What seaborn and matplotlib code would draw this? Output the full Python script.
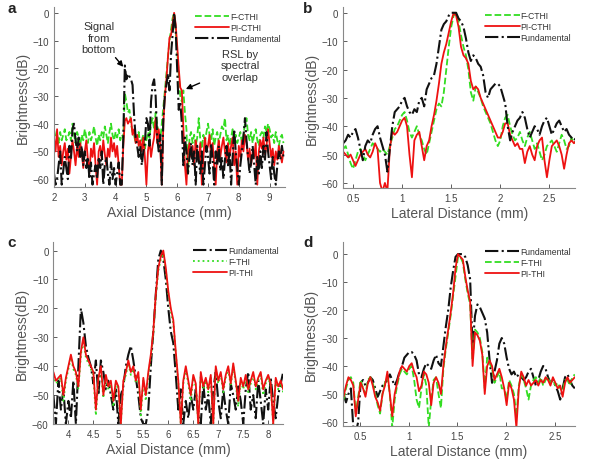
import matplotlib
matplotlib.use("Agg")
import matplotlib.pyplot as plt
from matplotlib.ticker import FormatStrFormatter
import seaborn as sns
import numpy as np

# ---- panel a : axial profile, CTHI ----
a_start, a_step = 2.0, 0.05
a_fcthi = [-42, -45, -44, -47, -43, -46, -44, -42, -46, -45,
           -43, -46, -40, -44, -47, -43, -45, -48, -44, -46,
           -42, -45, -47, -43, -46, -44, -41, -45, -48, -44,
           -46, -43, -45, -41, -44, -47, -43, -40, -44, -46,
           -43, -45, -42, -46, -44, -45, -29, -32, -36, -35,
           -40, -43, -44, -47, -45, -43, -48, -46, -44, -49,
           -46, -43, -45, -40, -38, -42, -36, -40, -44, -46,
           -40, -34, -28, -22, -16, -10, -6, -2, 0, -6,
           -14, -22, -30, -32, -28, -36, -42, -58, -45, -43,
           -47, -44, -48, -45, -38, -46, -49, -44, -47, -43,
           -40, -44, -46, -42, -48, -45, -43, -47, -44, -41,
           -42, -38, -46, -44, -48, -45, -42, -46, -44, -47,
           -45, -43, -47, -44, -40, -38, -44, -46, -43, -47,
           -44, -42, -46, -48, -44, -43, -45, -41, -43, -40,
           -42, -45, -44, -47, -43, -46, -48, -45, -44, -47]
a_picthi = [-45, -50, -42, -52, -48, -55, -50, -47, -53, -49,
            -58, -52, -46, -50, -55, -48, -52, -47, -50, -56,
            -50, -46, -53, -58, -49, -52, -47, -55, -62, -50,
            -48, -53, -46, -51, -55, -49, -52, -45, -50, -47,
            -52, -48, -55, -62, -62, -48, -39, -38, -40, -39,
            -38, -44, -42, -47, -44, -48, -46, -50, -45, -52,
            -62, -50, -46, -52, -48, -45, -38, -47, -42, -48,
            -62, -40, -30, -24, -16, -9, -8, -4, 0, -4,
            -12, -20, -27, -28, -42, -55, -62, -50, -47, -52,
            -48, -55, -46, -50, -53, -47, -62, -52, -45, -50,
            -48, -44, -52, -47, -55, -62, -50, -46, -52, -48,
            -45, -50, -54, -47, -52, -48, -45, -55, -50, -62,
            -48, -52, -46, -50, -44, -47, -53, -49, -55, -50,
            -52, -47, -62, -50, -46, -49, -45, -51, -48, -42,
            -47, -52, -49, -55, -50, -53, -48, -51, -54, -50]
a_fund = [-58, -62, -60, -55, -50, -62, -57, -52, -56, -60,
          -48, -53, -42, -40, -46, -50, -45, -52, -48, -55,
          -50, -56, -52, -60, -54, -62, -58, -55, -60, -52,
          -56, -50, -62, -55, -52, -58, -62, -54, -60, -56,
          -62, -58, -54, -62, -62, -45, -19, -24, -22, -23,
          -24, -26, -37, -45, -48, -52, -48, -55, -50, -47,
          -38, -40, -48, -32, -26, -24, -30, -45, -50, -44,
          -62, -38, -30, -26, -22, -28, -15, -8, 0, -6,
          -20, -35, -32, -40, -55, -45, -50, -58, -52, -47,
          -55, -50, -62, -48, -53, -58, -50, -62, -55, -48,
          -52, -58, -47, -53, -62, -50, -55, -48, -57, -52,
          -60, -53, -48, -55, -50, -62, -52, -42, -50, -56,
          -62, -55, -50, -45, -38, -46, -52, -58, -54, -48,
          -55, -62, -52, -58, -50, -56, -48, -53, -43, -50,
          -55, -60, -52, -58, -62, -55, -50, -53, -48, -52]

# ---- panel b : lateral profile, CTHI ----
b_start, b_step = 0.40, 0.025
b_fcthi = [-48, -47, -50, -53, -55, -52, -49, -48, -50, -52,
           -50, -48, -46, -47, -48, -49, -48, -49, -50, -47,
           -44, -41, -40, -38, -36, -35, -38, -42, -44, -42,
           -40, -43, -45, -48, -50, -46, -42, -38, -34, -32,
           -33, -28, -20, -12, -5, -1, 0, -3, -8, -12,
           -15, -20, -28, -31, -26, -28, -30, -33, -35, -37,
           -39, -42, -45, -47, -45, -40, -37, -36, -40, -43,
           -45, -44, -42, -45, -47, -44, -42, -45, -48, -46,
           -49, -52, -50, -47, -46, -45, -47, -49, -46, -43,
           -45, -48, -47, -44, -46, -45]
b_picthi = [-49, -50, -51, -50, -52, -54, -52, -50, -49, -48,
            -50, -51, -49, -46, -48, -60, -63, -60, -63, -48,
            -42, -43, -42, -40, -38, -37, -40, -50, -58, -45,
            -43, -42, -47, -52, -47, -45, -40, -36, -31, -25,
            -18, -14, -11, -7, -3, 0, -1, -5, -12, -15,
            -16, -18, -24, -27, -26, -27, -30, -32, -34, -36,
            -38, -40, -42, -44, -44, -42, -39, -39, -43, -45,
            -47, -46, -48, -48, -53, -49, -47, -50, -52, -47,
            -45, -44, -52, -58, -52, -47, -46, -45, -47, -50,
            -55, -50, -46, -45, -46, -45]
b_fund = [-46, -45, -43, -44, -42, -41, -44, -48, -52, -47,
          -45, -46, -43, -41, -40, -44, -47, -50, -56, -48,
          -40, -35, -34, -33, -31, -30, -33, -35, -36, -34,
          -35, -31, -30, -33, -27, -25, -23, -22, -18, -12,
          -6, -4, -3, -1, 0, 0, 0, -2, -3, -5,
          -9, -14, -17, -15, -16, -18, -19, -22, -28, -30,
          -27, -26, -25, -25, -26, -29, -32, -40, -45, -42,
          -40, -38, -37, -35, -37, -41, -44, -42, -40, -41,
          -43, -40, -38, -37, -40, -43, -41, -39, -38, -40,
          -42, -41, -43, -44, -45, -44]

# ---- panel c : axial profile, THI ----
c_start, c_step = 3.70, 0.05
c_fund = [-50, -60, -45, -55, -48, -60, -52, -58, -45, -60,
          -40, -20, -25, -33, -37, -40, -46, -38, -50, -38,
          -42, -48, -45, -50, -55, -48, -60, -50, -47, -40,
          -36, -33, -38, -44, -50, -58, -60, -60, -55, -40,
          -28, -15, -3, 0, -3, -10, -20, -28, -32, -43,
          -55, -48, -60, -52, -58, -50, -55, -48, -57, -60,
          -46, -55, -50, -60, -48, -42, -52, -58, -48, -55,
          -60, -46, -50, -55, -47, -52, -60, -48, -42, -55,
          -50, -58, -45, -52, -60, -48, -55, -44, -52, -58,
          -50, -46, -42]
c_fthi = [-43, -46, -45, -44, -52, -45, -41, -37, -41, -43,
          -48, -36, -31, -37, -39, -41, -43, -57, -45, -41,
          -51, -44, -48, -46, -54, -46, -48, -60, -46, -43,
          -39, -43, -41, -46, -43, -57, -45, -52, -43, -37,
          -29, -16, -7, -3, -1, -7, -15, -21, -25, -36,
          -46, -60, -46, -41, -46, -52, -44, -47, -60, -43,
          -48, -45, -49, -44, -60, -41, -46, -43, -49, -44,
          -41, -47, -40, -46, -54, -45, -48, -44, -49, -46,
          -43, -48, -45, -43, -50, -46, -44, -47, -60, -45,
          -48, -46, -49]
c_pithi = [-42, -45, -44, -43, -50, -44, -40, -36, -40, -42,
           -47, -35, -30, -36, -38, -40, -42, -55, -44, -40,
           -50, -43, -47, -45, -52, -45, -47, -60, -45, -42,
           -38, -42, -40, -45, -42, -55, -44, -50, -42, -36,
           -28, -15, -6, -2, 0, -6, -14, -20, -24, -35,
           -45, -60, -45, -40, -45, -50, -43, -46, -60, -42,
           -47, -44, -48, -43, -60, -40, -45, -42, -48, -43,
           -40, -46, -39, -45, -52, -44, -47, -43, -48, -45,
           -42, -47, -44, -42, -48, -45, -43, -46, -60, -44,
           -47, -45, -48]

# ---- panel d : lateral profile, THI ----
d_start, d_step = 0.33, 0.025
d_fund = [-50, -53, -50, -48, -62, -64, -60, -46, -45, -47,
          -46, -44, -45, -48, -51, -49, -47, -46, -45, -43,
          -45, -47, -45, -42, -40, -37, -36, -35, -35, -36,
          -38, -43, -44, -41, -39, -40, -41, -38, -36, -39,
          -40, -33, -26, -20, -12, -6, -1, 0, 0, 0,
          -1, -4, -9, -33, -22, -18, -19, -21, -23, -28,
          -38, -46, -42, -38, -32, -30, -32, -37, -41, -43,
          -42, -44, -43, -44, -45, -44, -42, -41, -44, -47,
          -45, -42, -40, -41, -44, -46, -45, -47, -49, -52,
          -48, -44, -43, -45, -47, -48]
d_fthi = [-52, -48, -45, -44, -46, -57, -51, -45, -48, -50,
          -45, -44, -46, -50, -54, -57, -50, -46, -44, -50,
          -62, -52, -47, -43, -41, -42, -43, -41, -40, -45,
          -52, -55, -48, -43, -47, -62, -52, -45, -44, -50,
          -55, -41, -34, -28, -22, -15, -8, -1, -1, -3,
          -9, -14, -18, -38, -27, -28, -30, -35, -48, -37,
          -39, -41, -46, -44, -42, -48, -48, -52, -45, -47,
          -50, -58, -47, -43, -45, -48, -52, -47, -45, -44,
          -46, -44, -47, -45, -44, -46, -45, -47, -46, -48,
          -49, -45, -45, -47, -44, -43]
d_pithi = [-51, -47, -44, -45, -47, -58, -52, -46, -48, -51,
           -46, -44, -47, -51, -53, -56, -50, -47, -42, -50,
           -58, -50, -46, -42, -40, -41, -42, -40, -39, -42,
           -44, -49, -47, -42, -43, -46, -54, -46, -44, -46,
           -50, -40, -33, -27, -21, -14, -5, 0, -1, -2,
           -8, -13, -17, -40, -28, -29, -31, -36, -50, -40,
           -38, -40, -45, -43, -41, -44, -48, -54, -46, -48,
           -52, -62, -48, -42, -44, -47, -45, -47, -46, -45,
           -47, -45, -46, -44, -45, -47, -44, -46, -48, -47,
           -51, -46, -44, -46, -45, -44]

GREEN = "#33dd22"
RED = "#ee1111"
BLACK = "#111111"

sns.set_style("ticks")
plt.rcParams["font.family"] = ["Liberation Sans", "DejaVu Sans"]


def xs(start, step, vals):
    return start + step * np.arange(len(vals))


def draw(ax, start, step, series, xlim, ylim, xticks, xlabel):
    for vals, label, color, ls in series:
        lw = 1.5 if color == BLACK else 1.3
        sns.lineplot(x=xs(start, step, vals), y=vals, ax=ax, color=color,
                     linestyle=ls, linewidth=lw, label=label)
    ax.set_xlim(*xlim)
    ax.set_ylim(*ylim)
    ax.set_xticks(xticks)
    ax.set_yticks([0, -10, -20, -30, -40, -50, -60])
    ax.xaxis.set_major_formatter(FormatStrFormatter("%g"))
    ax.tick_params(labelsize=7, colors="#444444", length=3, width=0.6,
                   direction="in")
    for side in ["top", "right"]:
        ax.spines[side].set_visible(False)
    for side in ["left", "bottom"]:
        ax.spines[side].set_color("#888888")
        ax.spines[side].set_linewidth(0.8)
    ax.set_xlabel(xlabel, fontsize=10, color="#555555", labelpad=2)
    ax.set_ylabel("Brightness(dB)", fontsize=10, color="#555555", labelpad=2)
    leg = ax.legend(loc="upper right", frameon=False, fontsize=6.2,
                    handlelength=4, labelspacing=0.25, handletextpad=0.1,
                    borderaxespad=0.1)
    for t in leg.get_texts():
        t.set_color("#333333")


fig = plt.figure(figsize=(6, 4.6), dpi=100)
ax_a = fig.add_axes([0.090, 0.591, 0.385, 0.391])
ax_b = fig.add_axes([0.572, 0.589, 0.387, 0.394])
ax_c = fig.add_axes([0.089, 0.076, 0.383, 0.396])
ax_d = fig.add_axes([0.571, 0.072, 0.387, 0.399])

draw(ax_a, a_start, a_step,
     [(a_fcthi, "F-CTHI", GREEN, "--"),
      (a_picthi, "PI-CTHI", RED, "-"),
      (a_fund, "Fundamental", BLACK, "-.")],
     (2.0, 9.5), (-62.9, 2), range(2, 10), "Axial Distance (mm)")
draw(ax_b, b_start, b_step,
     [(b_fcthi, "F-CTHI", GREEN, "--"),
      (b_picthi, "PI-CTHI", RED, "-"),
      (b_fund, "Fundamental", BLACK, "-.")],
     (0.40, 2.765), (-61.8, 2.1), [0.5, 1, 1.5, 2, 2.5], "Lateral Distance (mm)")
draw(ax_c, c_start, c_step,
     [(c_fund, "Fundamental", BLACK, "-."),
      (c_fthi, "F-THI", GREEN, ":"),
      (c_pithi, "PI-THI", RED, "-")],
     (3.7, 8.3), (-60, 3), [4, 4.5, 5, 5.5, 6, 6.5, 7, 7.5, 8], "Axial Distance (mm)")
draw(ax_d, d_start, d_step,
     [(d_fund, "Fundamental", BLACK, "-."),
      (d_fthi, "F-THI", GREEN, "--"),
      (d_pithi, "PI-THI", RED, "-")],
     (0.32, 2.705), (-61.4, 4.2), [0.5, 1, 1.5, 2, 2.5], "Lateral Distance (mm)")

ax_a.annotate("Signal\nfrom\nbottom", xy=(4.25, -19.5), xytext=(3.45, -9),
              ha="center", va="center", fontsize=8, color="#333333",
              arrowprops=dict(arrowstyle="-|>", color="black", lw=1.0,
                              shrinkA=12, shrinkB=0))
ax_a.annotate("RSL by\nspectral\noverlap", xy=(6.28, -27.5), xytext=(8.05, -19),
              ha="center", va="center", fontsize=8, color="#333333",
              arrowprops=dict(arrowstyle="-|>", color="black", lw=1.0,
                              shrinkA=14, shrinkB=0))

for letter, (x, y) in zip("abcd", [(0.012, 0.972), (0.505, 0.972),
                                  (0.012, 0.462), (0.505, 0.462)]):
    fig.text(x, y, letter, fontsize=11, fontweight="bold", color="#222222")

fig.savefig("out.png", dpi=100)
plt.close(fig)
